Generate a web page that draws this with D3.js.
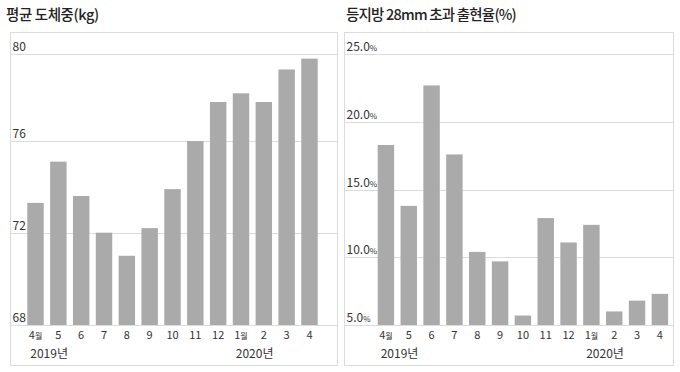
<!DOCTYPE html>
<html>
<head>
<meta charset="utf-8">
<script src="https://cdn.jsdelivr.net/npm/d3@7"></script>
<style>
  body { margin: 0; background: #fff; }
  svg { display: block; font-family: 'Noto Sans CJK KR', 'Noto Sans', sans-serif; }
</style>
</head>
<body>
<svg width="680" height="372"></svg>
<script>
let months = ['4월', '5', '6', '7', '8', '9', '10', '11', '12', '1월', '2', '3', '4']
let yearLabels = ['2019년', '2020년']
let yearStarts = ['4월', '1월']

let weightTitle = '평균 도체중(kg)'
let weightValues = [73.3, 75.1, 73.6, 72.0, 71.0, 72.2, 73.9, 76.0, 77.8, 78.2, 77.8, 79.3, 79.8]
let weightTicks = [68, 72, 76, 80]

let backfatTitle = '등지방 28mm 초과 출현율(%)'
let backfatValues = [18.3, 13.8, 22.7, 17.6, 10.4, 9.7, 5.7, 12.9, 11.1, 12.4, 6.0, 6.8, 7.3]
let backfatTicks = [5, 10, 15, 20, 25]

let svg = d3.select('svg')

function drawPanel (opts) {
  let g = svg.append('g')

  g.append('text')
    .attr('x', opts.titleX)
    .attr('y', 20)
    .attr('font-size', 14.5)
    .attr('font-weight', 500)
    .attr('letter-spacing', opts.titleSpacing)
    .attr('fill', '#222')
    .text(opts.title)

  // panel box
  g.append('rect')
    .attr('x', opts.left + 0.5)
    .attr('y', 32.5)
    .attr('width', opts.right - opts.left)
    .attr('height', 333)
    .attr('fill', 'none')
    .attr('stroke', '#dcdcdc')

  let x = d3.scaleBand()
    .domain(months)
    .range(opts.band)
    .paddingInner(0.28)
    .paddingOuter(0.14)

  let y = opts.y

  // grid lines
  g.selectAll('.grid')
    .data(opts.ticks)
    .enter()
    .append('line')
    .attr('x1', opts.left)
    .attr('x2', opts.right)
    .attr('y1', d => Math.round(y(d)) + 0.5)
    .attr('y2', d => Math.round(y(d)) + 0.5)
    .attr('stroke', '#dcdcdc')

  g.selectAll('.bar')
    .data(opts.values)
    .enter()
    .append('rect')
    .attr('x', (d, i) => x(months[i]))
    .attr('width', x.bandwidth())
    .attr('y', d => y(d))
    .attr('height', d => y(opts.ticks[0]) - y(d))
    .attr('fill', '#aaaaaa')

  // y tick labels, sitting above the grid line
  let labels = g.selectAll('.ylab')
    .data(opts.ticks)
    .enter()
    .append('text')
    .attr('x', opts.left + 2.5)
    .attr('y', d => y(d) - 3)
    .attr('font-size', 12)
    .attr('fill', '#333')
  labels.append('tspan').text(d => opts.fmt(d))
  if (opts.suffix) {
    labels.append('tspan').attr('font-size', 8).text(opts.suffix)
  }

  // month labels
  let ml = g.selectAll('.mlab')
    .data(months)
    .enter()
    .append('text')
    .attr('x', d => x(d) + x.bandwidth() / 2)
    .attr('y', 339)
    .attr('text-anchor', 'middle')
    .attr('font-size', 11)
    .attr('fill', '#333')
  ml.append('tspan').text(d => d.replace('월', ''))
  ml.append('tspan').attr('font-size', 8).text(d => d.indexOf('월') >= 0 ? '월' : '')

  g.selectAll('.year')
    .data(yearLabels)
    .enter()
    .append('text')
    .attr('x', (d, i) => x(yearStarts[i]) + 3)
    .attr('y', 358)
    .attr('font-size', 12)
    .attr('fill', '#333')
    .text(d => d)
}

drawPanel({
  title: weightTitle,
  titleX: 6,
  titleSpacing: -0.4,
  values: weightValues,
  ticks: weightTicks,
  left: 10,
  right: 337,
  band: [24.1, 320.9],
  y: d3.scaleLinear().domain(weightTicks).range([325, 232.7, 141, 54.3]),
  fmt: d3.format('d')
})

drawPanel({
  title: backfatTitle,
  titleX: 346,
  titleSpacing: -0.8,
  values: backfatValues,
  ticks: backfatTicks,
  left: 344,
  right: 673,
  band: [374.5, 671.3],
  y: d3.scaleLinear().domain([5, 25]).range([325, 54.3]),
  fmt: d3.format('.1f'),
  suffix: '%'
})
</script>
</body>
</html>
